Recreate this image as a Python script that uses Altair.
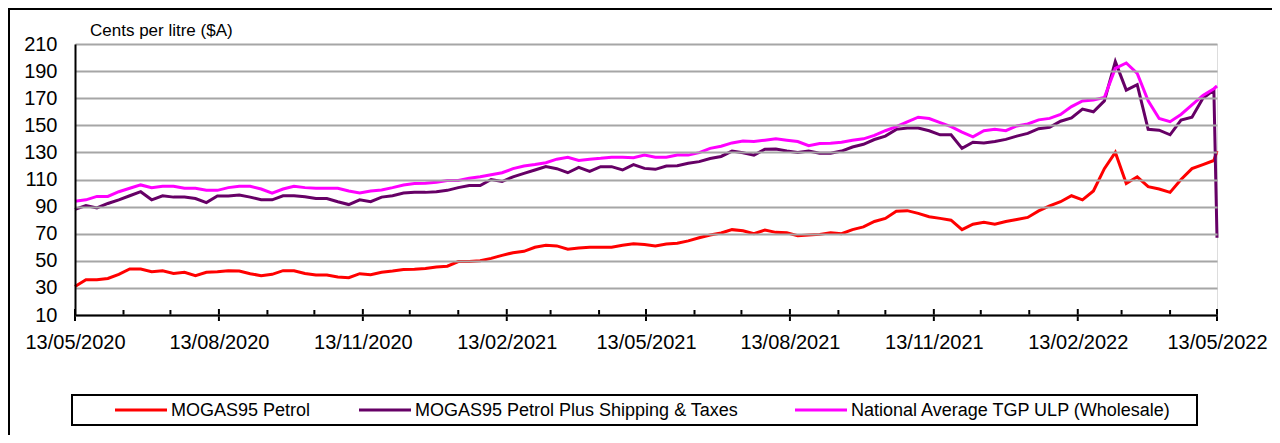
import altair as alt
import pandas as pd

# weekly sample dates (13/05/2020 ... 11/05/2022) plus final day 13/05/2022
dates = list(pd.date_range("2020-05-13", periods=105, freq="7D")) + [pd.Timestamp("2022-05-13")]

mogas95 = [
    31, 36, 36, 37, 40, 44, 44, 42, 42.7, 40.7, 41.5, 39, 41.5, 42, 42.7, 42.5, 40.5, 39,
    40, 42.7, 42.7, 40.7, 39.5, 39.5, 38, 37.5, 40.5, 39.8, 41.5, 42.4, 43.6, 43.8, 44.4, 45.5, 46,
    49.4, 49.4, 50, 51.8, 54, 56, 57, 60, 61.5, 61, 58.5, 59.5, 60, 60, 60, 61.5, 62.5, 62,
    61, 62.4, 63, 64.7, 67, 69, 70.5, 73, 72.2, 70, 72.7, 71, 70.7, 68.5, 69, 69.5, 70.7,
    70, 73, 75, 79, 81.3, 86.5, 87, 85, 82.5, 81.3, 80, 73, 77, 78.5, 77, 79, 80.5,
    82, 86.8, 90.5, 93.6, 98, 95, 101.5, 118, 130, 107, 112, 104.7, 103, 100.5, 110, 118, 121, 124,
    131,
]
mogas95_plus = [
    88, 90.7, 89, 92.3, 95, 98, 101, 95, 98, 97, 97, 96, 93, 97.8, 97.8, 98.5, 97, 95,
    95, 98, 98, 97.3, 96, 96, 93.6, 91.5, 95, 93.6, 97, 98, 100, 100.5, 100.5, 101, 102,
    104, 105.5, 105.5, 110, 108.5, 112, 114.5, 117, 119.5, 118, 115, 119, 116, 119.5, 119.5, 117, 121, 118.2,
    117.5, 120, 120.2, 122, 123.2, 125.5, 127, 131, 129.8, 128, 132.3, 132.5, 131, 130, 131, 129.4, 129.4,
    131, 134, 136, 139.5, 142, 147, 148, 148, 146, 143, 143, 133, 137.5, 137, 138, 139.6, 142,
    144, 147.5, 148.5, 153, 155.5, 162, 160, 168, 197, 176, 180, 147, 146.4, 143, 153.9, 156, 170, 176,
    67,
]
tgp_ulp = [
    94, 95, 97.5, 97.5, 101, 103.5, 106, 104, 105, 105, 103.5, 103.5, 102, 102, 104, 105, 105, 103,
    100, 103, 105, 104, 103.5, 103.5, 103.5, 101.5, 100, 101.5, 102.3, 104, 106, 107, 107.2, 108, 109.3,
    109.3, 111, 112, 113.5, 115, 118, 120, 121, 122.4, 125, 126.4, 124, 125, 125.6, 126.4, 126.4, 126, 128,
    126.4, 126.4, 128, 128, 129.8, 133, 134.5, 137, 138.4, 138, 139, 140, 139, 138, 135, 136.5, 136.7,
    137.5, 139, 140, 142.5, 146, 149, 152.5, 156, 155, 152, 149, 145, 141.5, 146, 147, 146, 149.5,
    151, 154, 155.1, 158, 163.8, 168, 168.7, 170.5, 192, 196, 188.3, 168, 155, 152.7, 158, 165, 172, 177,
    179,
]

series_names = ["MOGAS95 Petrol", "MOGAS95 Petrol Plus Shipping & Taxes", "National Average TGP ULP (Wholesale)"]
series_colors = ["#FF0000", "#660066", "#FF00FF"]
series_values = [mogas95, mogas95_plus, tgp_ulp]

major_ticks = ["2020-05-13", "2020-08-13", "2020-11-13", "2021-02-13", "2021-05-13",
               "2021-08-13", "2021-11-13", "2022-02-13", "2022-05-13"]
minor_ticks = ["2020-06-13", "2020-07-13", "2020-09-13", "2020-10-13", "2020-12-13", "2021-01-13",
               "2021-03-13", "2021-04-13", "2021-06-13", "2021-07-13", "2021-09-13", "2021-10-13",
               "2021-12-13", "2022-01-13", "2022-03-13", "2022-04-13"]
y_ticks = [10, 30, 50, 70, 90, 110, 130, 150, 170, 190, 210]
y_title = "Cents per litre ($A)"

FONT = "Liberation Sans"
W, H = 1142, 271


def dt(s):
    y, m, d = (int(p) for p in s.split("-"))
    return alt.DateTime(year=y, month=m, date=d)


rows = []
for name, vals in zip(series_names, series_values):
    assert len(vals) == len(dates)
    for d, v in zip(dates, vals):
        rows.append({"date": d, "value": v, "series": name})
df = pd.DataFrame(rows)

xscale = alt.Scale(domain=[dt(major_ticks[0]), dt(major_ticks[-1])], nice=False)

lines = alt.Chart(df).mark_line(strokeWidth=3).encode(
    x=alt.X("date:T", scale=xscale,
            axis=alt.Axis(values=[dt(s) for s in major_ticks], format="%d/%m/%Y", title=None,
                          ticks=False, tickSize=0, grid=False, domainColor="black", domainWidth=2,
                          labelFontSize=20, labelFont=FONT, labelColor="black", labelPadding=17,
                          labelOverlap=False, labelFlush=False, labelBound=False, zindex=1)),
    y=alt.Y("value:Q", scale=alt.Scale(domain=[10, 210], nice=False, zero=False),
            axis=alt.Axis(values=y_ticks, title=None, ticks=False, tickSize=0,
                          domainColor="black", domainWidth=2, gridColor="#A6A6A6", gridWidth=2,
                          labelFontSize=20, labelFont=FONT, labelColor="black", labelPadding=18,
                          zindex=1)),
    color=alt.Color("series:N", scale=alt.Scale(domain=series_names, range=series_colors), legend=None),
)

major_df = pd.DataFrame({"date": pd.to_datetime(major_ticks)})
minor_df = pd.DataFrame({"date": pd.to_datetime(minor_ticks)})

major_rules = alt.Chart(major_df).mark_rule(color="black", strokeWidth=2).encode(
    x="date:T", y=alt.value(H - 6), y2=alt.value(H + 6))
minor_rules = alt.Chart(minor_df).mark_rule(color="black", strokeWidth=2).encode(
    x="date:T", y=alt.value(H - 5), y2=alt.value(H))

title_txt = alt.Chart(pd.DataFrame({"t": [y_title]})).mark_text(
    align="left", baseline="middle", fontSize=17, font=FONT, color="black").encode(
    x=alt.value(15), y=alt.value(-13), text="t:N")

outer_box = alt.Chart(pd.DataFrame({"a": [0]})).mark_rect(
    fill="white", fillOpacity=0, stroke="black", strokeWidth=2).encode(
    x=alt.value(-66), x2=alt.value(1250), y=alt.value(-35), y2=alt.value(430))

legend_box = alt.Chart(pd.DataFrame({"a": [0]})).mark_rect(
    fill="white", stroke="black", strokeWidth=2).encode(
    x=alt.value(-3), x2=alt.value(1122), y=alt.value(351), y2=alt.value(381))

legend_layers = []
swatch_x = [40, 284, 720]
for name, col, sx in zip(series_names, series_colors, swatch_x):
    ldf = pd.DataFrame({"label": [name]})
    legend_layers.append(alt.Chart(ldf).mark_rule(color=col, strokeWidth=3).encode(
        x=alt.value(sx), x2=alt.value(sx + 52), y=alt.value(366)))
    legend_layers.append(alt.Chart(ldf).mark_text(
        align="left", baseline="middle", fontSize=18, font=FONT, color="black").encode(
        x=alt.value(sx + 56), y=alt.value(366.5), text="label:N"))

chart = alt.layer(
    outer_box, lines, major_rules, minor_rules, title_txt, legend_box, *legend_layers
).properties(
    width=W, height=H,
    autosize=alt.AutoSizeParams(type="none"),
    padding={"left": 67, "top": 36, "right": 55, "bottom": 120},
).configure_view(stroke="black", strokeWidth=2).configure(font=FONT)

chart.save("out.html", embed_options={"renderer": "svg", "actions": False})
